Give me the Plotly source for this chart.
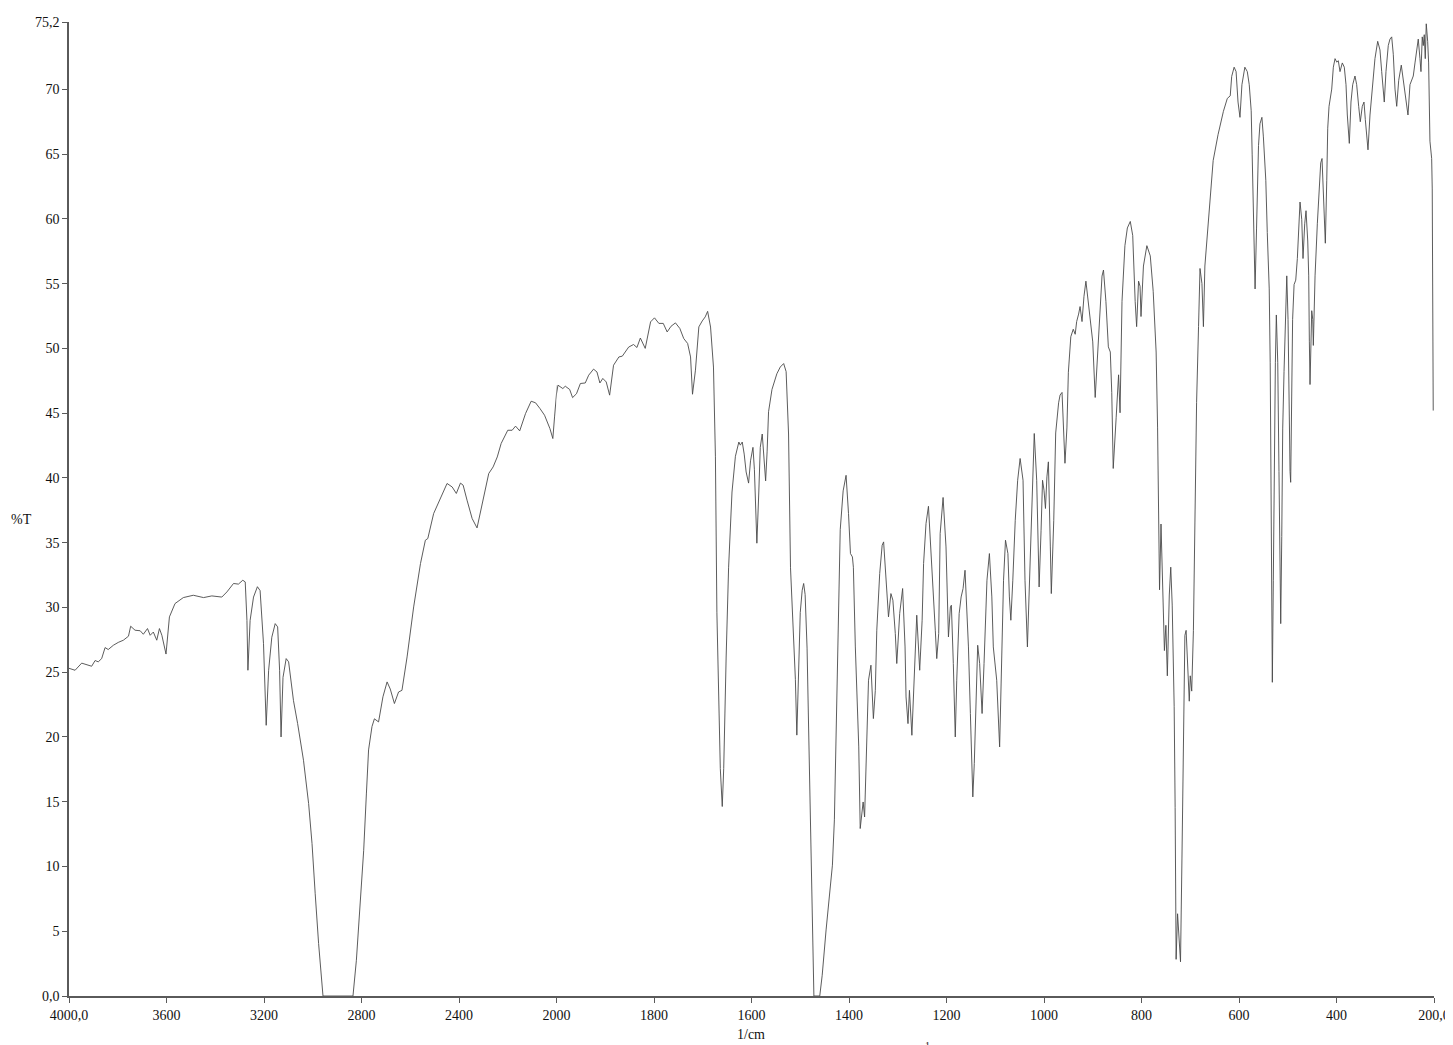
import plotly.graph_objects as go

# IR spectrum (wavenumber in 1/cm, transmittance in %T)
wavenumber = [
    4000, 3996, 3975, 3948, 3927, 3907, 3893, 3880, 3866, 3852, 3839, 3818, 3798, 3777, 3756, 3747,
    3729, 3708, 3695, 3678, 3667, 3654, 3640, 3629, 3619, 3602, 3588, 3565, 3531, 3490, 3448, 3414,
    3373, 3352, 3325, 3305, 3287, 3277, 3270, 3266, 3257, 3243, 3227, 3216, 3202, 3191, 3181, 3168,
    3154, 3144, 3136, 3130, 3122, 3109, 3099, 3079, 3062, 3038, 3017, 3003, 2990, 2976, 2958, 2835,
    2821, 2808, 2791, 2780, 2771, 2757, 2747, 2730, 2712, 2695, 2682, 2665, 2648, 2634, 2613, 2586,
    2558, 2538, 2528, 2504, 2476, 2449, 2428, 2411, 2394, 2383, 2367, 2346, 2326, 2305, 2278, 2260,
    2243, 2227, 2200, 2182, 2168, 2151, 2127, 2104, 2086, 2068, 2049, 2027, 2015, 2008, 1997,
    1987, 1982, 1973, 1967, 1959, 1951, 1941, 1934, 1924, 1917, 1911, 1905, 1898, 1891, 1883, 1872,
    1865, 1852, 1842, 1835, 1828, 1818, 1807, 1799, 1790, 1781, 1773, 1765, 1756, 1747, 1739, 1731,
    1725, 1721, 1715, 1708, 1701, 1695, 1690, 1684, 1678, 1674, 1671, 1667, 1664, 1660, 1657, 1652,
    1647, 1640, 1633, 1626, 1623, 1619, 1615, 1611, 1606, 1602, 1597, 1594, 1589, 1585, 1582, 1578,
    1575, 1571, 1568, 1565, 1558, 1548, 1541, 1534, 1529, 1524, 1520, 1514, 1510, 1507, 1503, 1500,
    1496, 1493, 1490, 1486, 1483, 1479, 1476, 1473, 1472, 1460, 1455, 1447, 1440, 1434, 1430, 1426,
    1422, 1418, 1412, 1406, 1401, 1397, 1393, 1391, 1387, 1384, 1380, 1377, 1371, 1368, 1363, 1360,
    1355, 1350, 1346, 1343, 1337, 1332, 1329, 1322, 1319, 1314, 1310, 1305, 1302, 1296, 1290, 1285,
    1283, 1279, 1276, 1271, 1266, 1261, 1255, 1250, 1247, 1242, 1237, 1232, 1227, 1223, 1220, 1216,
    1213, 1207, 1201, 1198, 1196, 1192, 1190, 1186, 1182, 1179, 1174, 1170, 1166, 1162, 1158, 1155,
    1151, 1148, 1146, 1143, 1139, 1136, 1132, 1127, 1123, 1117, 1112, 1107, 1104, 1100, 1097, 1091,
    1086, 1083, 1079, 1074, 1071, 1068, 1064, 1059, 1054, 1049, 1043, 1039, 1034, 1030, 1025, 1023,
    1020, 1015, 1011, 1010, 1006, 1003, 1000, 997, 994, 991, 987, 985, 980, 976, 970, 967,
    963, 960, 957, 953, 950, 945, 940, 936, 933, 929, 926, 922, 918, 914, 909, 904,
    900, 895, 890, 886, 881, 878, 873, 868, 864, 861, 858, 852, 847, 844, 840, 834,
    829, 823, 818, 813, 810, 806, 803, 801, 796, 789, 782, 776, 770, 767, 765, 763,
    760, 758, 755, 753, 750, 747, 743, 740, 737, 733, 731, 729, 726, 724, 720, 717,
    714, 711, 708.5, 705, 702, 700, 697, 693.5, 690, 687, 683, 680, 676, 673, 670, 666,
    663, 659, 653, 643, 632, 624, 618, 615, 610, 606, 602, 598, 594, 588, 583, 579,
    575, 573, 570.5, 567, 564, 560, 557, 553, 550, 545, 542, 538, 536, 534, 533, 531.6,
    529.6, 527.5, 525.4, 523.4, 520.5, 518, 516, 514.4, 512.3, 510.3, 507.6, 505, 502, 499.4, 497.4, 495.3,
    494, 492, 490, 487, 483.6, 480.3, 477.5, 474.8, 471.3, 468.7, 465.2, 462.5, 459, 457, 455.7, 454.3,
    450.8, 448.7, 447.5, 444, 439.3, 435.8, 432.4, 429.7, 427, 425, 422.9, 420, 418, 415.3, 409.8, 406.5,
    403, 399.5, 396.3, 392.8, 388.1, 384, 380.5, 377.8, 373.7, 370.3, 366.8, 362.1, 358.6, 354.5, 351.2, 347.1,
    343.6, 340.9, 338.1, 335.4, 331.3, 326.6, 321.1, 315.5, 310.8, 307.3, 304, 302, 298.5, 293.8, 290.3, 286.8,
    283.5, 280, 276.5, 272.4, 267.1, 263, 258.1, 253.4, 249.3, 245.8, 242.5, 239, 235.5, 232.3, 228.8, 226.7,
    224.1, 222, 220, 217.9, 215.9, 213, 211, 209.8, 208.3, 204.8, 203.6, 201.6,
]

transmittance = [
    25.3, 25.28, 25.15, 25.7, 25.6, 25.46, 25.9, 25.8, 26.05, 26.9, 26.75, 27.08, 27.3, 27.47, 27.78, 28.55,
    28.24, 28.2, 27.93, 28.37, 27.85, 28.1, 27.47, 28.37, 27.85, 26.4, 29.27, 30.3, 30.76, 30.94, 30.76, 30.89,
    30.8, 31.2, 31.85, 31.8, 32.1, 31.97, 29.0, 25.15, 29.0, 30.8, 31.6, 31.3, 27.2, 20.9, 25.15, 27.7,
    28.75, 28.5, 25.15, 20.0, 24.6, 26.05, 25.8, 22.8, 21.03, 18.2, 14.86, 11.77, 7.9, 4.05, 0.0, 0.0,
    2.76, 6.6, 11.25, 15.6, 19.0, 20.8, 21.4, 21.16, 23.1, 24.25, 23.7, 22.58, 23.47, 23.6, 26.18, 30.04,
    33.39, 35.19, 35.32, 37.25, 38.41, 39.57, 39.3, 38.8, 39.6, 39.44, 38.28, 36.86, 36.14, 38.02, 40.34, 40.85,
    41.62, 42.66, 43.68, 43.68, 44.0, 43.63, 44.97, 45.92, 45.8, 45.36, 44.84, 43.81, 43.04, 44.71, 47.16,
    46.9, 47.08, 46.83, 46.2, 46.5, 47.29, 47.33, 47.93, 48.4, 48.18, 47.33, 47.68, 47.41, 46.39, 48.7, 49.34,
    49.4, 50.1, 50.3, 50.07, 50.8, 50.0, 52.05, 52.36, 51.93, 51.93, 51.27, 51.71, 51.97, 51.54, 50.76, 50.38,
    49.34, 46.46, 48.32, 51.66, 52.12, 52.43, 52.86, 51.65, 48.56, 41.68, 29.63, 22.73, 17.56, 14.63, 17.56, 26.17,
    33.06, 38.91, 41.67, 42.77, 42.53, 42.77, 41.84, 40.46, 39.6, 41.32, 42.36, 40.63, 34.96, 38.91, 42.36, 43.39,
    41.67, 39.77, 42.01, 45.11, 46.83, 48.04, 48.56, 48.83, 48.21, 43.39, 33.06, 27.89, 24.45, 20.14, 25.14, 29.61,
    31.33, 31.85, 30.99, 26.86, 21.0, 14.12, 7.0, 1.5, 0.0, 0.0, 1.6, 5.1, 7.9, 10.1, 13.6, 21.3,
    30.6, 36.0, 39.0, 40.2, 37.25, 34.16, 33.9, 33.1, 26.95, 23.09, 19.23, 12.93, 14.98, 13.82, 20.52, 24.38,
    25.54, 21.42, 23.6, 28.24, 32.62, 34.8, 35.06, 31.33, 29.27, 31.07, 30.56, 27.98, 25.67, 29.53, 31.46, 26.95,
    23.09, 21.03, 23.6, 20.13, 24.9, 29.4, 25.15, 29.01, 33.39, 36.48, 37.81, 34.67, 30.81, 28.24, 26.05, 27.98,
    35.71, 38.49, 34.67, 29.53, 27.72, 30.04, 30.17, 25.67, 20.0, 24.38, 29.53, 30.81, 31.46, 32.87, 29.53, 26.95,
    21.81, 17.95, 15.37, 17.95, 24.38, 27.08, 25.67, 21.81, 25.67, 32.1, 34.16, 30.81, 26.95, 25.15, 24.38, 19.23,
    26.95, 32.1, 35.19, 34.16, 30.81, 29.01, 32.1, 36.73, 39.82, 41.5, 39.82, 32.1, 26.95, 32.1, 37.25, 41.11,
    43.43, 39.82, 34.67, 31.58, 35.96, 39.82, 39.05, 37.64, 40.08, 41.24, 34.67, 31.07, 36.73, 43.47, 45.8, 46.4,
    46.6, 43.86, 41.13, 43.86, 48.16, 50.9, 51.48, 51.09, 52.07, 52.65, 53.23, 52.07, 54.02, 55.19, 53.63, 52.07,
    50.5, 46.21, 49.72, 52.85, 55.58, 56.05, 53.63, 50.12, 49.72, 46.59, 40.73, 44.64, 47.96, 45.03, 53.63, 57.93,
    59.3, 59.8, 58.71, 53.63, 51.68, 55.19, 54.8, 52.46, 56.36, 57.93, 57.14, 54.41, 49.72, 43.86, 38.0, 31.36,
    36.44, 34.09, 29.01, 26.67, 28.62, 24.72, 30.96, 33.11, 30.18, 22.37, 14.56, 2.83, 6.35, 5.17, 2.64, 10.65,
    20.42, 27.84, 28.23, 25.5, 22.76, 24.72, 23.54, 28.23, 38.78, 45.81, 51.68, 56.17, 55.0, 51.68, 56.36, 58.32,
    59.1, 61.44, 64.5, 66.5, 68.3, 69.3, 69.5, 71.0, 71.71, 71.37, 69.02, 67.84, 70.36, 71.71, 71.37, 70.36,
    68.35, 65.0, 60.29, 54.59, 59.29, 65.66, 67.34, 67.84, 66.33, 62.98, 58.95, 54.59, 48.89, 38.82, 30.43, 24.22,
    32.1, 43.85, 48.89, 52.58, 48.89, 40.5, 32.1, 28.75, 35.47, 43.85, 48.22, 51.57, 55.6, 52.24, 45.54, 40.5,
    39.66, 45.54, 52.24, 54.93, 55.27, 56.94, 59.62, 61.3, 59.96, 56.94, 59.62, 60.63, 58.29, 55.6, 50.56, 47.21,
    52.91, 52.24, 50.23, 55.6, 59.62, 62.31, 64.32, 64.66, 62.31, 60.63, 58.12, 62.98, 67.0, 68.69, 70.02, 71.71,
    72.37, 72.1, 72.21, 71.37, 72.04, 71.71, 70.36, 68.02, 65.83, 69.02, 70.36, 71.03, 70.36, 68.69, 67.5, 68.69,
    69.02, 67.68, 66.33, 65.33, 68.02, 70.36, 72.37, 73.71, 73.04, 71.37, 70.02, 69.02, 71.37, 73.38, 73.88, 74.05,
    72.71, 70.02, 68.69, 70.7, 71.87, 70.7, 69.69, 68.02, 70.36, 70.7, 71.03, 72.04, 73.04, 73.88, 72.37, 71.37,
    74.05, 73.38, 74.22, 72.37, 75.06, 73.71, 72.04, 69.02, 66.0, 64.66, 62.31, 45.2,
]

# Axis ticks (the x axis is compressed 2x above 2000 1/cm)
x_ticks_high = [4000, 3600, 3200, 2800, 2400, 2000]
x_labels_high = ["4000,0", "3600", "3200", "2800", "2400", "2000"]
x_ticks_low = [1800, 1600, 1400, 1200, 1000, 800, 600, 400, 200]
x_labels_low = ["1800", "1600", "1400", "1200", "1000", "800", "600", "400", "200,0"]
y_ticks = [0, 5, 10, 15, 20, 25, 30, 35, 40, 45, 50, 55, 60, 65, 70, 75.2]
y_labels = ["0,0", "5", "10", "15", "20", "25", "30", "35", "40", "45", "50", "55", "60", "65", "70", "75,2"]

hi_w = [w for w in wavenumber if w >= 1990]
hi_t = [t for w, t in zip(wavenumber, transmittance) if w >= 1990]
lo_w = [w for w in wavenumber if w <= 2010]
lo_t = [t for w, t in zip(wavenumber, transmittance) if w <= 2010]

split = (4000 - 2000) / 2 / ((4000 - 2000) / 2 + (2000 - 200))

FONT = "Liberation Serif, Times New Roman, serif"
LINE = dict(color="#4a4a4a", width=0.9)
AX = "#5a5a5a"

fig = go.Figure()
fig.add_trace(go.Scatter(x=hi_w, y=hi_t, mode="lines", line=LINE, xaxis="x", yaxis="y",
                         showlegend=False, hoverinfo="skip"))
fig.add_trace(go.Scatter(x=lo_w, y=lo_t, mode="lines", line=LINE, xaxis="x2", yaxis="y",
                         showlegend=False, hoverinfo="skip"))

common_x = dict(showgrid=False, zeroline=False, showline=True, linecolor=AX, linewidth=1.5,
                ticks="outside", ticklen=5, tickwidth=1, tickcolor=AX, automargin=False,
                ticklabeloverflow="allow",
                tickfont=dict(family=FONT, size=14, color="#111"), anchor="y")

# page is drawn with an 8px body margin, so the figure is sized/margined to compensate
fig.update_layout(
    width=1445, height=1037,
    margin=dict(l=61, r=19, t=14, b=49, autoexpand=False),
    paper_bgcolor="white", plot_bgcolor="white",
    xaxis=dict(domain=[0, split], range=[4000, 2000], tickvals=x_ticks_high,
               ticktext=x_labels_high, **common_x),
    xaxis2=dict(domain=[split, 1], range=[2000, 200], tickvals=x_ticks_low,
                ticktext=x_labels_low, **common_x),
    yaxis=dict(range=[0, 75.2], tickvals=y_ticks, ticktext=y_labels, showgrid=False,
               zeroline=False, showline=True, linecolor=AX, linewidth=1.5, ticks="outside",
               ticklen=5, tickwidth=1, tickcolor=AX, anchor="x", automargin=False,
               ticklabeloverflow="allow",
               tickfont=dict(family=FONT, size=14, color="#111")),
    annotations=[
        dict(text="%T", xref="paper", yref="paper", x=-0.0345, y=0.489, showarrow=False,
             xanchor="center", yanchor="middle", font=dict(family=FONT, size=14, color="#111")),
        dict(text="1/cm", xref="paper", yref="paper", x=0.4996, y=-0.040, showarrow=False,
             xanchor="center", yanchor="middle", font=dict(family=FONT, size=14, color="#111")),
        dict(text="1", xref="paper", yref="paper", x=0.6286, y=-0.0435, showarrow=False,
             xanchor="center", yanchor="top", font=dict(family=FONT, size=10, color="#111")),
    ],
)

fig.write_html("out.html")
